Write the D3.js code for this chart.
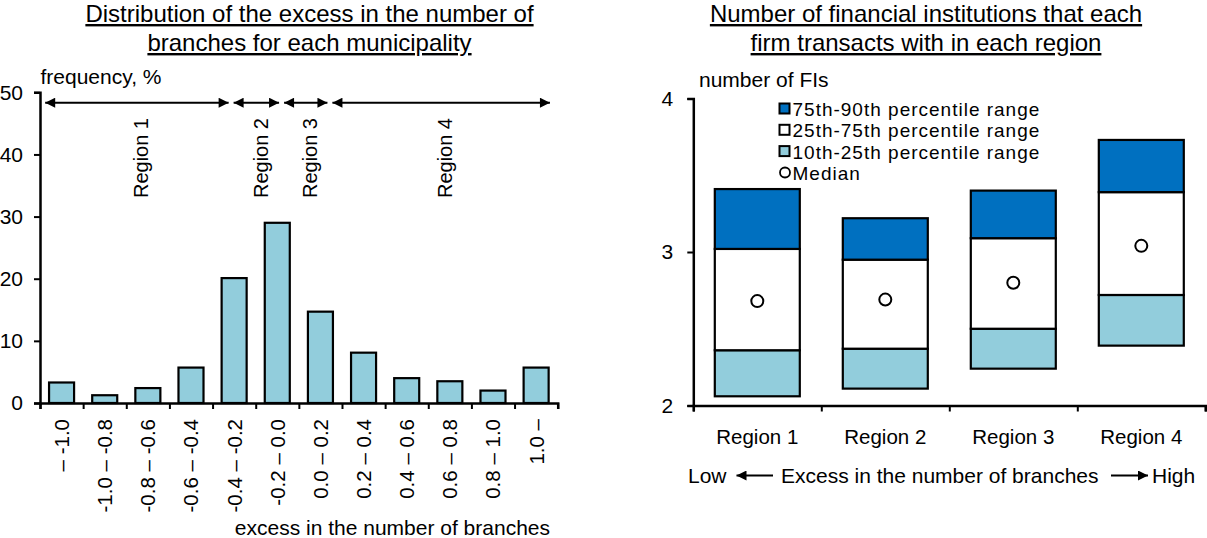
<!DOCTYPE html>
<html>
<head>
<meta charset="utf-8">
<script src="https://cdn.jsdelivr.net/npm/d3@7"></script>
<style>
  html, body { margin: 0; padding: 0; background: #fff; }
  svg text { font-family: "Liberation Sans", Arial, sans-serif; fill: #000; }
</style>
</head>
<body>
<svg id="chart" width="1207" height="538"></svg>
<script>
// ---------- Data ----------
const binLabels = ["\u2013 -1.0", "-1.0 \u2013 -0.8", "-0.8 \u2013 -0.6", "-0.6 \u2013 -0.4",
  "-0.4 \u2013 -0.2", "-0.2 \u2013 0.0", "0.0 \u2013 0.2", "0.2 \u2013 0.4",
  "0.4 \u2013 0.6", "0.6 \u2013 0.8", "0.8 \u2013 1.0", "1.0 \u2013"];
const frequency = [3.3, 1.25, 2.4, 5.7, 20.1, 29.0, 14.7, 8.1, 4.0, 3.5, 2.0, 5.7];
const freqTicks = [0, 10, 20, 30, 40, 50];

// region spans on the histogram, in bin units
const regionNames = ["Region 1", "Region 2", "Region 3", "Region 4"];
const regionBounds = [0.12, 4.43, 5.6, 6.72, 11.82];

const regions = ["Region 1", "Region 2", "Region 3", "Region 4"];
const p10 = [2.06, 2.11, 2.24, 2.39];
const p25 = [2.36, 2.37, 2.50, 2.72];
const p50 = [2.68, 2.69, 2.80, 3.04];
const p75 = [3.02, 2.95, 3.09, 3.39];
const p90 = [3.41, 3.22, 3.40, 3.73];
const fiTicks = [2, 3, 4];

const legendItems = ["75th-90th percentile range", "25th-75th percentile range", "10th-25th percentile range", "Median"];

// ---------- Styles ----------
const LIGHT = "#92CDDC", DARK = "#0070C0";
const FS = 21;

const svg = d3.select("#chart");
const defs = svg.append("defs");
function marker(id) {
  defs.append("marker").attr("id", id)
    .attr("viewBox", "0 0 10 10").attr("refX", 10).attr("refY", 5)
    .attr("markerUnits", "userSpaceOnUse")
    .attr("markerWidth", 11).attr("markerHeight", 10)
    .attr("orient", "auto-start-reverse")
    .append("path").attr("d", "M0,0 L10,5 L0,10 Z").attr("fill", "#000");
}
marker("arr");

function styleAxis(g) {
  g.selectAll("path.domain").attr("stroke", "#000").attr("stroke-width", 2.5);
  g.selectAll(".tick line").attr("stroke", "#000").attr("stroke-width", 2);
  g.selectAll(".tick text").attr("font-family", "Liberation Sans, Arial, sans-serif")
    .attr("font-size", FS).attr("fill", "#000");
}

// ================= LEFT CHART =================
const L = { x0: 40, x1: 557.7, y0: 403, y1: 92.3 };
const xL = d3.scaleBand().domain(binLabels).range([L.x0, L.x1]).paddingInner(0.42).paddingOuter(0.21);
const xLi = d3.scaleLinear().domain([0, binLabels.length]).range([L.x0, L.x1]);
const yL = d3.scaleLinear().domain([0, 50]).range([L.y0, L.y1]);

// titles
const tL = svg.append("text").attr("text-anchor", "middle").attr("font-size", 24)
  .style("text-decoration", "underline");
tL.append("tspan").attr("x", 309.5).attr("y", 22).text("Distribution of the excess in the number of");
tL.append("tspan").attr("x", 309.5).attr("y", 51).text("branches for each municipality");

svg.append("text").attr("x", 40.5).attr("y", 84).attr("font-size", FS).text("frequency, %");

// bars
svg.append("g").selectAll("rect").data(frequency).join("rect")
  .attr("x", (d, i) => xL(binLabels[i]))
  .attr("width", xL.bandwidth())
  .attr("y", d => yL(d))
  .attr("height", d => yL(0) - yL(d))
  .attr("fill", LIGHT).attr("stroke", "#000").attr("stroke-width", 2.2);

// y axis
const gyL = svg.append("g").attr("transform", `translate(${L.x0},0)`)
  .call(d3.axisLeft(yL).tickValues(freqTicks).tickSize(6).tickSizeOuter(6).tickPadding(11));
styleAxis(gyL);

// x axis (ticks at bin boundaries)
const gxL = svg.append("g").attr("transform", `translate(0,${L.y0})`)
  .call(d3.axisBottom(xLi).tickValues(d3.range(binLabels.length + 1)).tickSize(6).tickSizeOuter(6).tickFormat(""));
styleAxis(gxL);

// x labels rotated
svg.append("g").selectAll("text").data(binLabels).join("text")
  .attr("transform", d => `translate(${xL(d) + xL.bandwidth() / 2},419) rotate(-90)`)
  .attr("text-anchor", "end").attr("dy", "0.36em").attr("font-size", 20.5)
  .text(d => d);

svg.append("text").attr("x", 550).attr("y", 535).attr("text-anchor", "end")
  .attr("font-size", FS).text("excess in the number of branches");

// region arrows
const arrowY = 102.7;
regionNames.forEach((name, i) => {
  const a = xLi(regionBounds[i]) + (i === 0 ? 0 : 2.5);
  const b = xLi(regionBounds[i + 1]) - (i === regionNames.length - 1 ? 0 : 2.5);
  svg.append("line").attr("x1", a).attr("x2", b).attr("y1", arrowY).attr("y2", arrowY)
    .attr("stroke", "#000").attr("stroke-width", 2)
    .attr("marker-start", "url(#arr)").attr("marker-end", "url(#arr)");
  const cx = (a + b) / 2 + 4;
  svg.append("text").attr("transform", `translate(${cx},118) rotate(-90)`)
    .attr("text-anchor", "end").attr("dy", "0.36em").attr("font-size", 20).text(name);
});

// ================= RIGHT CHART =================
const R = { x0: 693.3, x1: 1205.3, y0: 405.5, y1: 98.5 };
const xR = d3.scaleBand().domain(regions).range([R.x0, R.x1]).paddingInner(0.336).paddingOuter(0.168);
const xRi = d3.scaleLinear().domain([0, regions.length]).range([R.x0, R.x1]);
const yR = d3.scaleLinear().domain([2, 4]).range([R.y0, R.y1]);

const tR = svg.append("text").attr("text-anchor", "middle").attr("font-size", 24)
  .style("text-decoration", "underline");
tR.append("tspan").attr("x", 926).attr("y", 22).text("Number of financial institutions that each");
tR.append("tspan").attr("x", 926).attr("y", 51).text("firm transacts with in each region");

svg.append("text").attr("x", 699).attr("y", 87).attr("font-size", FS).text("number of FIs");

const segs = [
  { lo: p10, hi: p25, fill: LIGHT },
  { lo: p25, hi: p75, fill: "#fff" },
  { lo: p75, hi: p90, fill: DARK }
];
const gB = svg.append("g");
segs.forEach(s => {
  gB.append("g").selectAll("rect").data(regions).join("rect")
    .attr("x", d => xR(d)).attr("width", xR.bandwidth())
    .attr("y", (d, i) => yR(s.hi[i]))
    .attr("height", (d, i) => yR(s.lo[i]) - yR(s.hi[i]))
    .attr("fill", s.fill).attr("stroke", "#000").attr("stroke-width", 2.2);
});
svg.append("g").selectAll("circle").data(p50).join("circle")
  .attr("cx", (d, i) => xR(regions[i]) + xR.bandwidth() / 2)
  .attr("cy", d => yR(d)).attr("r", 6)
  .attr("fill", "#fff").attr("stroke", "#000").attr("stroke-width", 2);

const gyR = svg.append("g").attr("transform", `translate(${R.x0},0)`)
  .call(d3.axisLeft(yR).tickValues(fiTicks).tickFormat(d3.format("d")).tickSize(6).tickSizeOuter(6).tickPadding(14));
styleAxis(gyR);
const gxR = svg.append("g").attr("transform", `translate(0,${R.y0})`)
  .call(d3.axisBottom(xRi).tickValues(d3.range(regions.length + 1)).tickSize(6).tickSizeOuter(6).tickFormat(""));
styleAxis(gxR);

svg.append("g").selectAll("text").data(regions).join("text")
  .attr("x", d => xR(d) + xR.bandwidth() / 2).attr("y", 443.5)
  .attr("text-anchor", "middle").attr("font-size", 20.5).text(d => d);

// legend
const legFills = [DARK, "#fff", LIGHT];
const legBase = [116, 137.3, 158.6, 180];
legendItems.forEach((t, i) => {
  if (i < 3) {
    svg.append("rect").attr("x", 779.5).attr("y", legBase[i] - 12.5).attr("width", 10).attr("height", 10)
      .attr("fill", legFills[i]).attr("stroke", "#000").attr("stroke-width", 2);
  } else {
    svg.append("circle").attr("cx", 785).attr("cy", legBase[i] - 7.5).attr("r", 5)
      .attr("fill", "#fff").attr("stroke", "#000").attr("stroke-width", 1.8);
  }
  svg.append("text").attr("x", 792.5).attr("y", legBase[i]).attr("font-size", 19)
    .attr("letter-spacing", 1).text(t);
});

// Low <- ... -> High
const lhY = 483;
svg.append("text").attr("x", 688).attr("y", lhY).attr("font-size", FS).text("Low");
svg.append("text").attr("x", 781).attr("y", lhY).attr("font-size", FS).text("Excess in the number of branches");
svg.append("text").attr("x", 1152).attr("y", lhY).attr("font-size", FS).text("High");
svg.append("line").attr("x1", 773).attr("x2", 736.5).attr("y1", lhY - 7.5).attr("y2", lhY - 7.5)
  .attr("stroke", "#000").attr("stroke-width", 2).attr("marker-end", "url(#arr)");
svg.append("line").attr("x1", 1111).attr("x2", 1148).attr("y1", lhY - 7.5).attr("y2", lhY - 7.5)
  .attr("stroke", "#000").attr("stroke-width", 2).attr("marker-end", "url(#arr)");
</script>
</body>
</html>
